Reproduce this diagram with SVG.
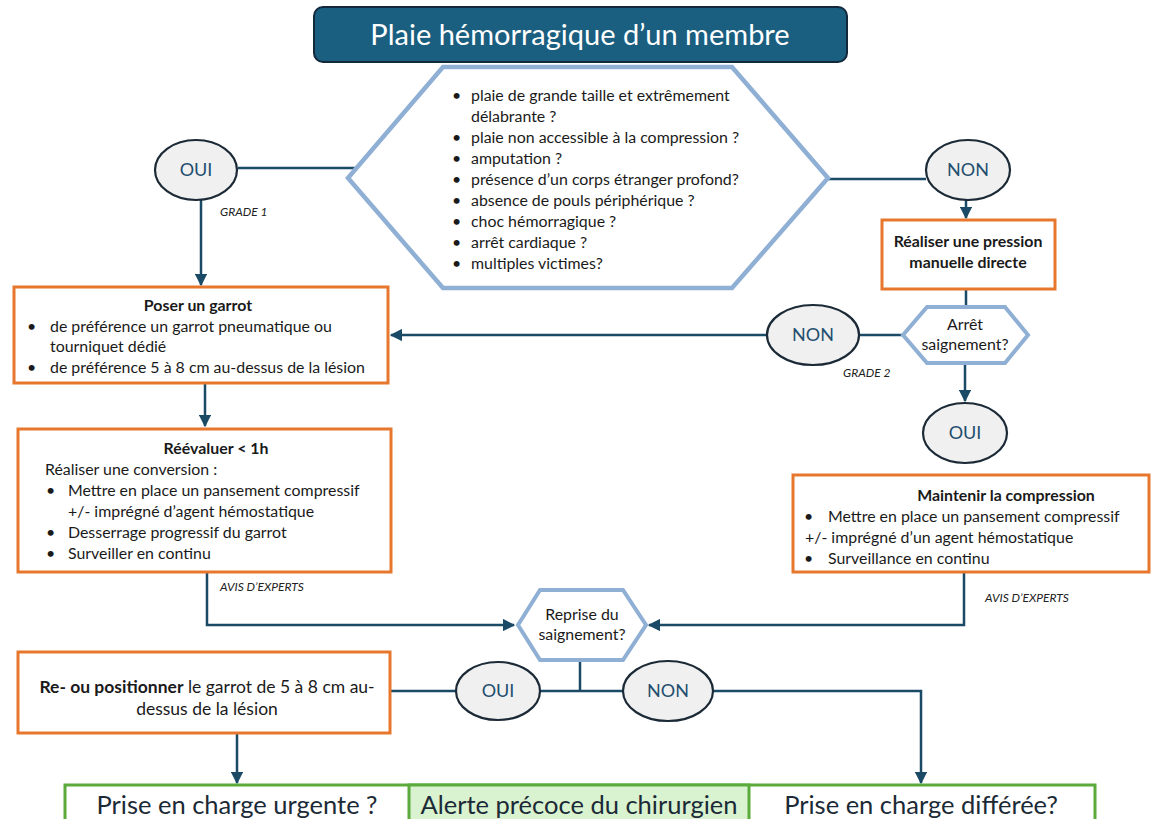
<svg xmlns="http://www.w3.org/2000/svg" width="1151" height="819" viewBox="0 0 1151 819">
<defs>
<marker id="arr" viewBox="0 0 10 10" refX="9" refY="5" markerWidth="5" markerHeight="5" orient="auto-start-reverse" markerUnits="strokeWidth">
<path d="M0,0 L10,5 L0,10 z" fill="#1b4a66"/>
</marker>
<style>
text{font-family:Lato,"Open Sans","Liberation Sans",sans-serif;fill:#1a1a1a}
.t{font-size:15.9px}
.b{font-weight:bold}
.c{text-anchor:middle}
.g{font-size:12px;font-style:italic;fill:#222}
.yn{font-size:18px;fill:#1f4e6e;text-anchor:middle}
.bottom{font-size:25.5px;text-anchor:middle;fill:#1b2a36}
.box{fill:#fff;stroke:#e8772e;stroke-width:3}
.hex{fill:#fff;stroke:#8fb0d4;stroke-width:4.5;stroke-linejoin:miter}
.ell{fill:#f0f0f0;stroke:#1b2a36;stroke-width:2.2}
.ln{fill:none;stroke:#1b4a66;stroke-width:2.5}
.ar{marker-end:url(#arr)}
</style>
</defs>

<g id="connectors">
<line class="ln" x1="238" y1="168" x2="355" y2="168"/>
<line class="ln ar" x1="201" y1="200" x2="201" y2="285"/>
<line class="ln" x1="828" y1="179" x2="926" y2="179"/>
<line class="ln ar" x1="966" y1="200" x2="966" y2="218"/>
<line class="ln" x1="966" y1="289" x2="966" y2="307"/>
<line class="ln" x1="860" y1="335" x2="903" y2="335"/>
<line class="ln ar" x1="767" y1="335" x2="391" y2="335"/>
<line class="ln ar" x1="965" y1="363" x2="965" y2="401"/>
<line class="ln ar" x1="205" y1="383" x2="205" y2="426"/>
<polyline class="ln ar" points="207,572 207,625 514,625"/>
<polyline class="ln ar" points="964,572 964,625 649,625"/>
<line class="ln" x1="580" y1="660" x2="580" y2="691"/>
<line class="ln" x1="390" y1="691" x2="457" y2="691"/>
<line class="ln" x1="540" y1="691" x2="623" y2="691"/>
<polyline class="ln ar" points="714,691 921,691 921,783"/>
<line class="ln ar" x1="237" y1="733" x2="237" y2="783"/>
</g>

<g id="title">
<rect x="314" y="7" width="533" height="55" rx="9" fill="#1a5e80" stroke="#13283a" stroke-width="2"/>
<text x="580" y="45" class="c" style="font-size:29px;fill:#fff">Plaie hémorragique d’un membre</text>
</g>

<g id="criteria">
<polygon class="hex" points="348,178 443,67 732,67 828,178 732,288 443,288"/>
<g class="t">
<text x="452" y="101">•</text><text x="471" y="101">plaie de grande taille et extrêmement</text>
<text x="471" y="122">délabrante ?</text>
<text x="452" y="143">•</text><text x="471" y="143">plaie non accessible à la compression ?</text>
<text x="452" y="164">•</text><text x="471" y="164">amputation ?</text>
<text x="452" y="185">•</text><text x="471" y="185">présence d’un corps étranger profond?</text>
<text x="452" y="206">•</text><text x="471" y="206">absence de pouls périphérique ?</text>
<text x="452" y="227">•</text><text x="471" y="227">choc hémorragique ?</text>
<text x="452" y="248">•</text><text x="471" y="248">arrêt cardiaque ?</text>
<text x="452" y="269">•</text><text x="471" y="269">multiples victimes?</text>
</g>
</g>

<g id="oui1">
<ellipse class="ell" cx="196" cy="170" rx="41" ry="30"/>
<text x="196" y="176" class="yn">OUI</text>
<text x="220" y="216" class="g">GRADE 1</text>
</g>

<g id="non1">
<ellipse class="ell" cx="968" cy="170" rx="42" ry="30"/>
<text x="968" y="176" class="yn">NON</text>
</g>

<g id="pression">
<rect class="box" x="882" y="220" width="173" height="69"/>
<text x="968" y="247" class="t b c">Réaliser une pression</text>
<text x="968" y="268" class="t b c">manuelle directe</text>
</g>

<g id="arret">
<polygon class="hex" points="903,335 927,307 1005,307 1028,335 1005,363 927,363" style="stroke-width:4"/>
<text x="965" y="330" class="t c">Arrêt</text>
<text x="965" y="350" class="t c">saignement?</text>
</g>

<g id="non2">
<ellipse class="ell" cx="813" cy="335" rx="46" ry="30"/>
<text x="813" y="341" class="yn">NON</text>
<text x="843" y="377" class="g">GRADE 2</text>
</g>

<g id="oui2">
<ellipse class="ell" cx="965" cy="433" rx="42" ry="30"/>
<text x="965" y="439" class="yn">OUI</text>
</g>

<g id="garrot">
<rect class="box" x="14" y="287" width="374" height="96"/>
<text x="198" y="311" class="t b c">Poser un garrot</text>
<text x="27" y="332" class="t">•</text><text x="50" y="332" class="t">de préférence un garrot pneumatique ou</text>
<text x="50" y="352" class="t">tourniquet dédié</text>
<text x="27" y="373" class="t">•</text><text x="50" y="373" class="t">de préférence 5 à 8 cm au-dessus de la lésion</text>
</g>

<g id="reevaluer">
<rect class="box" x="18" y="429" width="373" height="143"/>
<text x="216" y="454" class="t b c">Réévaluer &lt; 1h</text>
<text x="45" y="475" class="t">Réaliser une conversion :</text>
<text x="46" y="496" class="t">•</text><text x="68" y="496" class="t">Mettre en place un pansement compressif</text>
<text x="68" y="517" class="t">+/- imprégné d’agent hémostatique</text>
<text x="46" y="538" class="t">•</text><text x="68" y="538" class="t">Desserrage progressif du garrot</text>
<text x="46" y="559" class="t">•</text><text x="68" y="559" class="t">Surveiller en continu</text>
<text x="220" y="591" class="g">AVIS D’EXPERTS</text>
</g>

<g id="maintenir">
<rect class="box" x="793" y="475" width="356" height="97"/>
<text x="1006" y="501" class="t b c">Maintenir la compression</text>
<text x="804" y="522" class="t">•</text><text x="828" y="522" class="t">Mettre en place un pansement compressif</text>
<text x="805" y="543" class="t">+/- imprégné d’un agent hémostatique</text>
<text x="804" y="564" class="t">•</text><text x="828" y="564" class="t">Surveillance en continu</text>
<text x="985" y="602" class="g">AVIS D’EXPERTS</text>
</g>

<g id="reprise">
<polygon class="hex" points="518,625 540,590 623,590 646,625 623,660 540,660" style="stroke-width:4"/>
<text x="582" y="620" class="t c">Reprise du</text>
<text x="582" y="640" class="t c">saignement?</text>
</g>

<g id="oui3">
<ellipse class="ell" cx="498" cy="691" rx="42" ry="29"/>
<text x="498" y="697" class="yn">OUI</text>
</g>

<g id="non3">
<ellipse class="ell" cx="668" cy="691" rx="45" ry="30"/>
<text x="668" y="697" class="yn">NON</text>
</g>

<g id="repositionner">
<rect class="box" x="18" y="652" width="372" height="81"/>
<text x="207" y="693" class="c" style="font-size:17.5px"><tspan class="b">Re- ou positionner</tspan> le garrot de 5 à 8 cm au-</text>
<text x="207" y="715" class="c" style="font-size:17.5px">dessus de la lésion</text>
</g>

<g id="outcomes">
<rect x="65" y="785" width="1030" height="45" fill="#fff" stroke="#5aab3c" stroke-width="3"/>
<rect x="409" y="785" width="340" height="45" fill="#d9f2d0" stroke="#5aab3c" stroke-width="3"/>
<text x="237" y="814" class="bottom">Prise en charge urgente ?</text>
<text x="579" y="814" class="bottom">Alerte précoce du chirurgien</text>
<text x="921" y="814" class="bottom">Prise en charge différée?</text>
</g>
</svg>
